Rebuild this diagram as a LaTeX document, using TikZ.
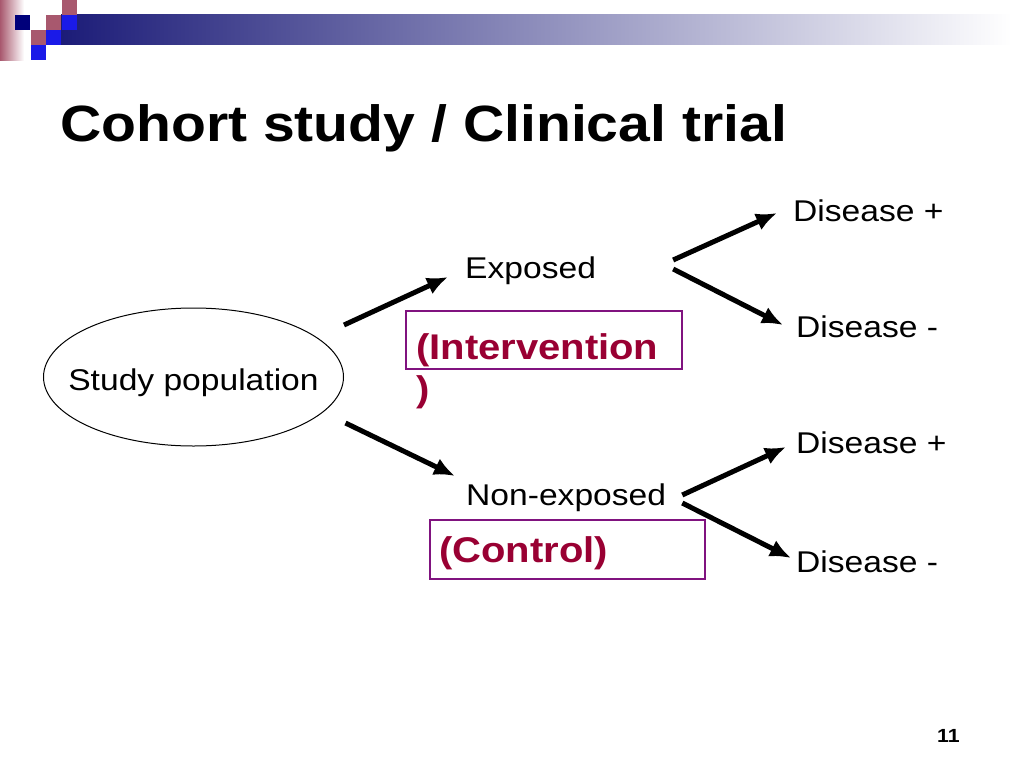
\documentclass[tikz,border=0pt]{standalone}
\usepackage{fontspec}
\setmainfont{Liberation Sans}[FakeStretch=1.12]
\usepackage{tikz}
\usetikzlibrary{arrows.meta,shapes}
\definecolor{barnavy}{HTML}{1C1C78}
\definecolor{decomauve}{HTML}{A8586E}
\definecolor{decoblue}{HTML}{1A1AE8}
\definecolor{deconavy}{HTML}{00007A}
\definecolor{boxpurple}{HTML}{80137F}
\definecolor{textcrimson}{HTML}{990033}
\tikzstyle{line} = [draw, line width=5pt, -{Latex[length=21pt,width=18pt]}]
\tikzstyle{txt} = [anchor=base west, inner sep=0pt, font=\fontsize{30}{36}\selectfont]
\tikzstyle{boldtxt} = [anchor=base west, inner sep=0pt, align=left, text=textcrimson,
    font=\fontsize{35.7}{47}\selectfont\bfseries]
\tikzstyle{block} = [rectangle, draw=boxpurple, line width=2pt, inner sep=0pt]
\def\sq{15}

\begin{document}
\begin{tikzpicture}[x=1pt, y=-1pt]
    % Slide background and corner decoration
    \useasboundingbox (0,0) rectangle (1024,768);
    \fill[white] (0,0) rectangle (1024,768);
    \shade[left color=decomauve, right color=white] (0,0) rectangle (24,60);
    \shade[left color=barnavy, right color=white] (61,15) rectangle (1012,45);
    \foreach \x/\y/\c in {15/15/deconavy, 62/0/decomauve, 46/15/decomauve, 62/15/decoblue,
                          31/30/decomauve, 46/30/decoblue, 31/45/decoblue}
        \fill[\c] (\x,\y) rectangle +(\sq,\sq);

    % Place nodes
    \node [txt, font=\fontsize{51}{56}\selectfont\bfseries] (title) at (60,141) {Cohort study / Clinical trial};
    \node [ellipse, draw, line width=1pt, minimum width=300pt, minimum height=138pt, inner sep=0pt] (pop) at (193.5,377) {};
    \node [txt, anchor=base] (popText) at (193.5,390) {Study population};
    \node [txt] (exposed) at (465,278.5) {Exposed};
    \node [txt] (nonexposed) at (466,505) {Non-exposed};
    \node [txt] (diseaseA) at (793,221) {Disease +};
    \node [txt] (healthyA) at (796,337) {Disease -};
    \node [txt] (diseaseB) at (796,453) {Disease +};
    \node [txt] (healthyB) at (796,572) {Disease -};
    \node [block, minimum width=276pt, minimum height=58pt] (interBox) at (544,340) {};
    \node [boldtxt] (interText) at (416,401) {(Intervention\\[-5pt])};
    \node [block, minimum width=275pt, minimum height=59pt] (controlBox) at (567.5,549.5) {};
    \node [boldtxt] (controlText) at (439,562) {(Control)};
    \node [txt, font=\fontsize{19}{22}\selectfont\bfseries] (pageNo) at (937,742) {11};

    % Draw edges
    \path [line] ([shift={(0,-52)}]pop.east) -- ([shift={(-17,-1.5)}]exposed.base west);
    \path [line] ([shift={(1.5,46)}]pop.east) -- ([shift={(-11,-29)}]nonexposed.base west);
    \path [line] ([shift={(77,-18.5)}]exposed.base east) -- ([shift={(-16,-8)}]diseaseA.base west);
    \path [line] ([shift={(77,-9.5)}]exposed.base east) -- ([shift={(-13,-12)}]healthyA.base west);
    \path [line] ([shift={(16,-10)}]nonexposed.base east) -- ([shift={(-10,-6)}]diseaseB.base west);
    \path [line] ([shift={(16,-2)}]nonexposed.base east) -- ([shift={(-5,-14)}]healthyB.base west);
\end{tikzpicture}
\end{document}
